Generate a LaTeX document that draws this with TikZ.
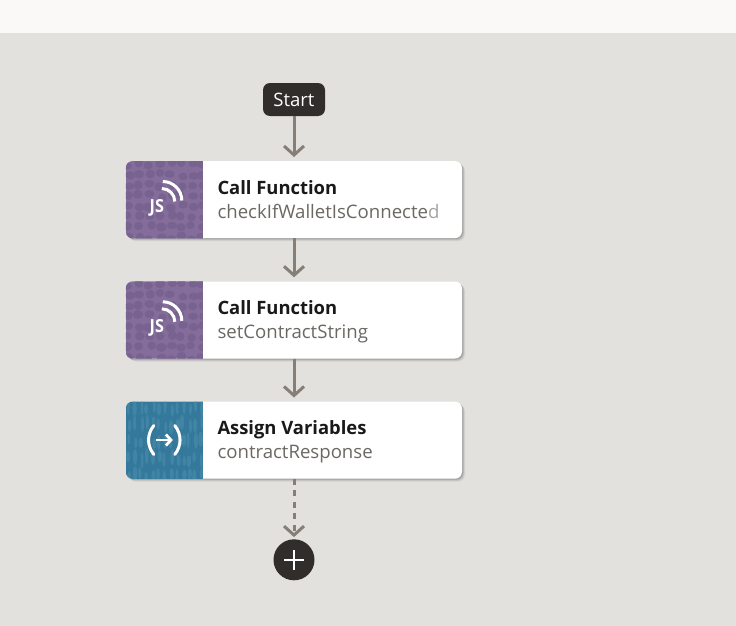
\documentclass[tikz,border=0pt]{standalone}
\usepackage{fontspec}
\setmainfont{Open Sans}
\usetikzlibrary{positioning, arrows.meta, shadows}

\definecolor{pagebg}{HTML}{E3E1DD}
\definecolor{topbar}{HTML}{FAF9F7}
\definecolor{darkfill}{HTML}{312D2A}
\definecolor{flowgray}{HTML}{857F78}
\definecolor{subgray}{HTML}{6B6864}
\definecolor{jsbase}{HTML}{846D9A}
\definecolor{jscell}{HTML}{78628F}
\definecolor{varbase}{HTML}{34789C}
\definecolor{varcell}{HTML}{4A8CA9}

\tikzset{
  card/.style={rectangle, fill=white, rounded corners=7pt, minimum width=336pt, minimum height=77pt, inner sep=0pt,
    drop shadow={shadow xshift=3pt, shadow yshift=-3pt, opacity=.12, fill=black!60},
    drop shadow={shadow xshift=2pt, shadow yshift=-2pt, opacity=.2, fill=black!60},
    drop shadow={shadow xshift=1pt, shadow yshift=-1pt, opacity=.3, fill=black!60}},
  cardtitle/.style={anchor=base west, inner sep=0pt, font=\fontsize{18.4}{22}\selectfont\bfseries, text=black!90},
  cardsub/.style={anchor=base west, inner sep=0pt, font=\fontsize{18.6}{22}\selectfont, text=subgray},
  flow/.style={draw=flowgray, line width=3pt, -{Straight Barb[length=9pt, width=20pt, line width=3pt]}},
  startbox/.style={rectangle, fill=darkfill, rounded corners=7pt, minimum width=62pt, minimum height=33pt, inner sep=0pt,
    text=white, font=\fontsize{18.5}{22}\selectfont},
  addbtn/.style={circle, fill=darkfill, minimum size=41pt, inner sep=0pt},
  iconline/.style={white, line width=3pt, line cap=round}
}

% Icon panel on the left of a card
\newcommand{\jspanel}[1]{
  \begin{scope}
    \clip[rounded corners=7pt] (#1.north west) rectangle (#1.south east);
    \begin{scope}[shift={(#1.north west)}]
      \clip (0,-1) rectangle (77,78);
      \fill[jsbase] (0,-1) rectangle (77,78);
      \pgfmathsetseed{42}
      \foreach \i in {0,...,7} \foreach \j in {0,...,7}
        \fill[jscell] (\i*10.5+3+4*rnd-2,\j*10.5+3+4*rnd-2) ellipse[x radius=4.2pt+rnd*1pt, y radius=3.6pt+rnd*1pt];
      \node[font=\fontsize{18}{18}\selectfont\bfseries, text=white, inner sep=0pt, xscale=.9] (#1js) at (31,46.5) {JS};
      \draw[iconline, line cap=butt] (36,27.5) arc[start angle=90, end angle=0, radius=13pt];
      \draw[iconline, line cap=butt] (37,20.5) arc[start angle=90, end angle=0, radius=19pt];
    \end{scope}
  \end{scope}
}
\newcommand{\varpanel}[1]{
  \begin{scope}
    \clip[rounded corners=7pt] (#1.north west) rectangle (#1.south east);
    \begin{scope}[shift={(#1.north west)}]
      \clip (0,-1) rectangle (77,78);
      \fill[varbase] (0,-1) rectangle (77,78);
      \pgfmathsetseed{7}
      \foreach \i in {0,...,12} \foreach \j in {0,...,4}
        \fill[varcell, opacity=.6] (\i*6+3+3*rnd-1,\j*17+6+6*rnd-3) ellipse[x radius=1.3pt+rnd*1pt, y radius=5pt+rnd*3pt];
      \draw[iconline] (28,24) .. controls (21,33) and (21,44) .. (28,53);
      \draw[iconline] (49,24) .. controls (56,33) and (56,44) .. (49,53);
      \draw[iconline, line cap=butt, line width=2.8pt, -{Straight Barb[length=5pt, width=11pt]}] (30,38.5) -- (47,38.5);
    \end{scope}
  \end{scope}
}

\begin{document}
\begin{tikzpicture}[x=1pt, y=-1pt]
  \useasboundingbox (0,0) rectangle (736,626);
  \fill[pagebg] (0,0) rectangle (736,626);
  \fill[topbar] (0,0) rectangle (736,33);

  % Define nodes
  \node[startbox] (start) at (294,99.5) {Start};
  \node[card] (call1) [below=44.8pt of start] {};
  \node[card] (call2) [below=42.9pt of call1] {};
  \node[card] (assign) [below=42.8pt of call2] {};
  \node[addbtn] (add) [below=60.2pt of assign] {};

  \jspanel{call1}
  \jspanel{call2}
  \varpanel{assign}

  % Card texts
  \node[cardtitle] (call1title) at ([xshift=91.5pt, yshift=5.5pt]call1.west) {Call Function};
  \node[cardsub] (call1sub) at ([xshift=91.5pt, yshift=-18.5pt]call1.west) {checkIfWalletIsConnecte{\color{subgray!60}d}};
  \node[cardtitle] (call2title) at ([xshift=91.5pt, yshift=5.5pt]call2.west) {Call Function};
  \node[cardsub] (call2sub) at ([xshift=91.5pt, yshift=-18.5pt]call2.west) {setContractString};
  \node[cardtitle] (assigntitle) at ([xshift=91.5pt, yshift=5.5pt]assign.west) {Assign Variables};
  \node[cardsub] (assignsub) at ([xshift=91.5pt, yshift=-18.5pt]assign.west) {contractResponse};

  % Plus sign
  \draw[white, line width=2pt] ([xshift=-10pt]add.center) -- ([xshift=10pt]add.center);
  \draw[white, line width=2pt] ([yshift=-10pt]add.center) -- ([yshift=10pt]add.center);

  % Define edges
  \draw[flow, shorten >=4pt] (start) -- (call1);
  \draw[flow, shorten >=4pt] (call1) -- (call2);
  \draw[flow, shorten >=4pt] (call2) -- (assign);
  \draw[flow, shorten >=2pt, dash pattern=on 6pt off 5.5pt] (assign) -- (add);
\end{tikzpicture}
\end{document}
